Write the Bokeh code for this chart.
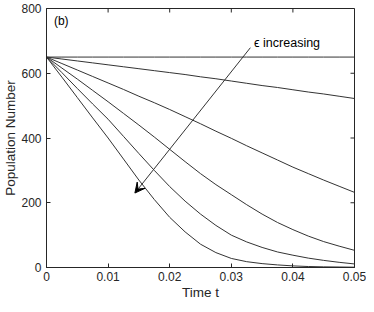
import math
from bokeh.plotting import figure
from bokeh.models import Arrow, VeeHead, Label, Range1d, FixedTicker
from bokeh.embed import file_html
from bokeh.resources import INLINE

t = [0, 0.0025, 0.005, 0.0075, 0.01, 0.0125, 0.015, 0.0175, 0.02, 0.0225, 0.025,
     0.0275, 0.03, 0.0325, 0.035, 0.0375, 0.04, 0.0425, 0.045, 0.0475, 0.05]
n1 = [650] * 21
n2 = [650, 644, 638, 632, 626, 620, 614, 608, 602, 596, 589, 583, 576, 569, 562, 556, 549, 542, 536, 529, 522]
n3 = [650, 630, 610, 590, 570, 550, 529, 509, 488, 466, 444, 421, 399, 376, 354, 332, 310, 290, 270, 251, 232]
n4 = [650, 616, 582, 547, 512, 476, 440, 403, 365, 327, 290, 256, 225, 194, 165, 139, 117, 97, 80, 66, 53]
n5 = [650, 602, 553, 505, 458, 405, 352, 300, 250, 205, 165, 130, 100, 79, 62, 48, 38, 29, 22, 16, 11]
n6 = [650, 588, 525, 462, 400, 335, 270, 210, 155, 110, 72, 46, 28, 18, 12, 8, 5, 3, 2, 1.5, 1]
series = [n1, n2, n3, n4, n5, n6]

x_ticks = [0, 0.01, 0.02, 0.03, 0.04, 0.05]
x_tick_labels = {0: "0", 0.01: "0.01", 0.02: "0.02", 0.03: "0.03", 0.04: "0.04", 0.05: "0.05"}
y_ticks = [0, 200, 400, 600, 800]

arrow_start = (0.0331, 679)
arrow_end = (0.01435, 230)
annot_text = "\u03f5 increasing"
panel_label = "(b)"

FONT = "Liberation Sans"
AX = "#262626"
X0, X1, Y0, Y1 = 0, 0.05, 0, 800

p = figure(width=366, height=304, output_backend="svg", toolbar_location=None,
           x_range=Range1d(X0, X1), y_range=Range1d(Y0, Y1),
           min_border_top=8, min_border_right=12, min_border_left=45, min_border_bottom=37)
p.grid.visible = False
p.outline_line_color = AX
p.background_fill_color = "white"
p.border_fill_color = "white"

for s in series:
    p.line(t, s, line_color="#333333", line_width=1)

# inward ticks on top and right edges (MATLAB box style)
p.ray(x=x_ticks, y=[Y1] * len(x_ticks), length=4, length_units="screen",
      angle=-math.pi / 2, line_color=AX, line_width=1)
p.ray(x=[X1] * len(y_ticks), y=y_ticks, length=4, length_units="screen",
      angle=math.pi, line_color=AX, line_width=1)

for ax in [p.xaxis[0], p.yaxis[0]]:
    ax.axis_line_color = AX
    ax.major_tick_line_color = AX
    ax.major_tick_in = 4
    ax.major_tick_out = 0
    ax.minor_tick_line_color = None
    ax.major_label_text_font = FONT
    ax.major_label_text_font_size = "12px"
    ax.major_label_text_color = AX
    ax.axis_label_text_font = FONT
    ax.axis_label_text_font_size = "13.5px"
    ax.axis_label_text_font_style = "normal"
    ax.axis_label_text_color = AX

p.xaxis[0].ticker = FixedTicker(ticks=x_ticks)
p.xaxis[0].major_label_overrides = x_tick_labels
p.xaxis[0].axis_label = "Time t"
p.xaxis[0].major_label_standoff = 4
p.xaxis[0].axis_label_standoff = 1
p.yaxis[0].ticker = FixedTicker(ticks=y_ticks)
p.yaxis[0].axis_label = "Population Number"
p.yaxis[0].major_label_standoff = 5
p.yaxis[0].axis_label_standoff = 0

p.add_layout(Arrow(end=VeeHead(size=10, fill_color="black", line_color="black", line_width=1),
                   x_start=arrow_start[0], y_start=arrow_start[1],
                   x_end=arrow_end[0], y_end=arrow_end[1],
                   line_color="#333333", line_width=1))
p.add_layout(Label(x=0.0337, y=692, text=annot_text, text_font=FONT, text_font_size="12.5px",
                   text_color="black", text_baseline="middle"))
p.add_layout(Label(x=0.0012, y=760, text=panel_label, text_font=FONT, text_font_size="12px",
                   text_color="black", text_baseline="middle"))

open("out.html", "w").write(file_html(p, INLINE))
